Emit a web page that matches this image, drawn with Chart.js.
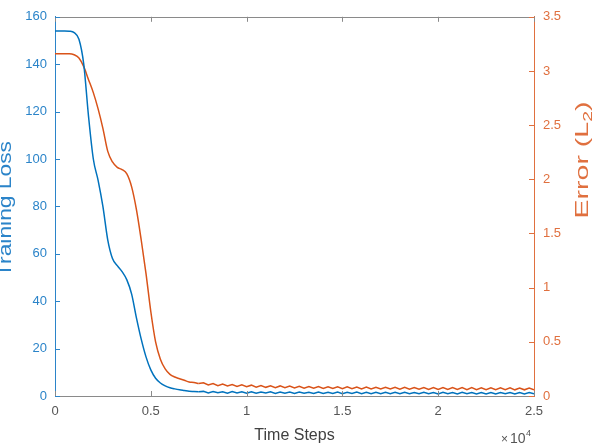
<!DOCTYPE html>
<html lang="en">
<head>
<meta charset="UTF-8">
<title>Training Loss and Error</title>
<style>
  body { margin: 0; background: #fff; }
  #chart { display: block; }
</style>
</head>
<body>
<canvas id="chart" width="601" height="446"></canvas>
<script src="https://cdn.jsdelivr.net/npm/chart.js@4.4.1/dist/chart.umd.min.js"></script>
<script>
// Data
const steps = [];
for (let s = 0; s <= 25000; s += 250) steps.push(s);

const trainingLoss = [
  154, 154, 154, 153.9, 153.3, 150.5, 140, 118, 100, 91,
  80, 66, 58, 55, 52.5, 49, 43, 33, 24, 16.5,
  11, 7.5, 5.5, 4.3, 3.5, 3.0, 2.6, 2.3, 2.0, 1.9,
  1.8,
  1.95, 1.3, 1.9, 1.35, 1.8, 1.2, 1.85, 1.3, 1.75, 1.15,
  1.8, 1.2, 1.7, 1.25, 1.75, 1.1, 1.7, 1.2, 1.65, 1.1,
  1.7, 1.15, 1.6, 1.05, 1.7, 1.1, 1.6, 1.05, 1.65, 1.0,
  1.6, 1.05, 1.65, 1.0, 1.55, 1.0, 1.6, 0.95, 1.55, 1.0,
  1.55, 0.95, 1.6, 1.0, 1.5, 0.95, 1.55, 0.95, 1.5, 0.9,
  1.55, 0.95, 1.5, 0.9, 1.55, 0.95, 1.5, 0.9, 1.5, 0.9,
  1.5, 0.9, 1.45, 0.95, 1.45, 0.9, 1.5, 0.9, 1.45, 0.95
];

const errorL2 = [
  3.16, 3.16, 3.16, 3.16, 3.15, 3.12, 3.04, 2.92, 2.80, 2.65,
  2.47, 2.26, 2.16, 2.11, 2.09, 2.05, 1.93, 1.72, 1.44, 1.13,
  0.78, 0.50, 0.34, 0.25, 0.20, 0.175, 0.16, 0.145, 0.13, 0.125,
  0.115,
  0.122, 0.102, 0.115, 0.096, 0.11, 0.092, 0.106, 0.088, 0.103, 0.086,
  0.1, 0.082, 0.097, 0.08, 0.095, 0.077, 0.093, 0.076, 0.091, 0.074,
  0.09, 0.072, 0.088, 0.071, 0.087, 0.07, 0.086, 0.069, 0.085, 0.068,
  0.084, 0.067, 0.083, 0.066, 0.082, 0.065, 0.081, 0.064, 0.081, 0.064,
  0.08, 0.063, 0.08, 0.062, 0.079, 0.062, 0.079, 0.061, 0.078, 0.061,
  0.078, 0.06, 0.077, 0.06, 0.077, 0.059, 0.077, 0.059, 0.076, 0.058,
  0.076, 0.058, 0.075, 0.058, 0.075, 0.057, 0.074, 0.057, 0.074, 0.058
];

// index where the smooth drop ends and the noisy plateau begins
const dropEnd = 30;

const xTicks = [0, 5000, 10000, 15000, 20000, 25000];
const lossTicks = [0, 20, 40, 60, 80, 100, 120, 140, 160];
const errorTicks = [0, 0.5, 1, 1.5, 2, 2.5, 3, 3.5];

// Styles
const FONT = "'Liberation Sans', Arial, Helvetica, sans-serif";
const BLUE = "#0072BD";
const BLUE_TXT = "#2b84c9";
const RED = "#D95319";
const RED_TXT = "#e0703f";
const GRAY = "#8a8a8a";
const GRAY_TXT = "#555555";

const toPoints = (vals, from, to) =>
  steps.slice(from, to).map((s, i) => ({ x: s, y: vals[from + i] }));

function line(label, vals, axis, color, smooth) {
  const pts = smooth ? toPoints(vals, 0, dropEnd + 1) : toPoints(vals, dropEnd, steps.length);
  return {
    label: label,
    data: pts,
    yAxisID: axis,
    borderColor: color,
    borderWidth: 1.5,
    pointRadius: 0,
    cubicInterpolationMode: smooth ? "monotone" : "default",
    tension: 0,
    fill: false
  };
}

// MATLAB-like box: top line, inward ticks, axis titles, exponent
const matlabAxes = {
  id: "matlabAxes",
  afterDraw(chart) {
    const { ctx, chartArea: a, scales } = chart;
    const L = 5;
    ctx.save();
    ctx.lineWidth = 1;

    ctx.strokeStyle = GRAY;
    ctx.beginPath();
    ctx.moveTo(a.left, Math.round(a.top) + 0.5);
    ctx.lineTo(a.right, Math.round(a.top) + 0.5);
    xTicks.forEach(v => {
      const px = Math.round(scales.x.getPixelForValue(v)) + 0.5;
      ctx.moveTo(px, a.bottom); ctx.lineTo(px, a.bottom - L);
      ctx.moveTo(px, a.top); ctx.lineTo(px, a.top + L);
    });
    ctx.stroke();

    ctx.strokeStyle = BLUE_TXT;
    ctx.beginPath();
    lossTicks.forEach(v => {
      const py = Math.round(scales.y.getPixelForValue(v)) + 0.5;
      ctx.moveTo(a.left, py); ctx.lineTo(a.left + L, py);
    });
    ctx.stroke();

    ctx.strokeStyle = RED_TXT;
    ctx.beginPath();
    errorTicks.forEach(v => {
      const py = Math.round(scales.y1.getPixelForValue(v)) + 0.5;
      ctx.moveTo(a.right, py); ctx.lineTo(a.right - L, py);
    });
    ctx.stroke();

    // left title (stretched along its length like the source figure)
    ctx.fillStyle = BLUE_TXT;
    ctx.font = "19px " + FONT;
    ctx.textAlign = "center";
    ctx.textBaseline = "alphabetic";
    ctx.save();
    ctx.translate(11, 209);
    ctx.rotate(-Math.PI / 2);
    ctx.scale(1.2, 1);
    ctx.fillText("Training Loss", 0, 0);
    ctx.restore();

    // right title with subscript
    ctx.fillStyle = RED_TXT;
    ctx.save();
    ctx.translate(588, 160);
    ctx.rotate(-Math.PI / 2);
    ctx.scale(1.5, 1);
    ctx.textAlign = "left";
    ctx.font = "19px " + FONT;
    const p1 = "Error (L", p3 = ")";
    const w1 = ctx.measureText(p1).width, w3 = ctx.measureText(p3).width;
    ctx.font = "13px " + FONT;
    const w2 = ctx.measureText("2").width;
    const x0 = -(w1 + w2 + w3) / 2;
    ctx.font = "19px " + FONT;
    ctx.fillText(p1, x0, 0);
    ctx.font = "13px " + FONT;
    ctx.fillText("2", x0 + w1, 4);
    ctx.font = "19px " + FONT;
    ctx.fillText(p3, x0 + w1 + w2, 0);
    ctx.restore();

    // x title and exponent
    ctx.fillStyle = "#404040";
    ctx.font = "16px " + FONT;
    ctx.textAlign = "center";
    ctx.fillText("Time Steps", (a.left + a.right) / 2, 440);
    ctx.textAlign = "left";
    ctx.fillStyle = GRAY_TXT;
    ctx.font = "12px " + FONT;
    ctx.fillText("\u00d7", 501, 443);
    ctx.font = "14px " + FONT;
    ctx.fillText("10", 510, 443);
    ctx.font = "9px " + FONT;
    ctx.fillText("4", 526, 436);
    ctx.restore();
  }
};

new Chart(document.getElementById("chart").getContext("2d"), {
  type: "line",
  data: {
    datasets: [
      line("Training Loss", trainingLoss, "y", BLUE, true),
      line("Training Loss", trainingLoss, "y", BLUE, false),
      line("Error (L2)", errorL2, "y1", RED, true),
      line("Error (L2)", errorL2, "y1", RED, false)
    ]
  },
  options: {
    responsive: false,
    animation: false,
    layout: { padding: { top: 11, left: 0, right: 0, bottom: 0 } },
    plugins: { legend: { display: false }, tooltip: { enabled: false } },
    scales: {
      x: {
        type: "linear",
        min: 0, max: 25000,
        afterBuildTicks: s => { s.ticks = xTicks.map(v => ({ value: v })); },
        ticks: { callback: v => String(v / 10000), color: GRAY_TXT, font: { size: 13, family: FONT }, padding: 8, maxRotation: 0 },
        grid: { display: false, drawTicks: false },
        border: { display: true, color: GRAY, width: 1 },
        afterFit: s => { s.height = 50; }
      },
      y: {
        position: "left",
        min: 0, max: 160,
        afterBuildTicks: s => { s.ticks = lossTicks.map(v => ({ value: v })); },
        ticks: { color: BLUE_TXT, font: { size: 13, family: FONT }, padding: 8 },
        grid: { display: false, drawTicks: false },
        border: { display: true, color: BLUE_TXT, width: 1 },
        afterFit: s => { s.width = 55; }
      },
      y1: {
        position: "right",
        min: 0, max: 3.5,
        afterBuildTicks: s => { s.ticks = errorTicks.map(v => ({ value: v })); },
        ticks: { callback: v => String(v), color: RED_TXT, font: { size: 13, family: FONT }, padding: 9 },
        grid: { display: false, drawTicks: false },
        border: { display: true, color: RED_TXT, width: 1 },
        afterFit: s => { s.width = 67; }
      }
    }
  },
  plugins: [matlabAxes]
});
</script>
</body>
</html>
